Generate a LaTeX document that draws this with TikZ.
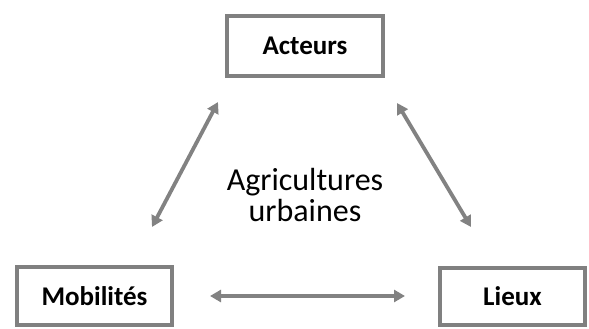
\documentclass[tikz,border=0pt]{standalone}
\usepackage{fontspec}
\setmainfont{Carlito}
\usetikzlibrary{arrows.meta,shadows}
\definecolor{edgegray}{RGB}{128,128,128}
\definecolor{arrgray}{RGB}{130,130,130}
\tikzset{
  box/.style={draw=edgegray, line width=3.4pt, fill=white, inner sep=0pt,
    font=\bfseries\fontsize{27}{32}\selectfont,
    drop shadow={shadow xshift=1.5pt, shadow yshift=-1.5pt, opacity=0.35, fill=black}},
  link/.style={draw=arrgray, line width=3.8pt, {Triangle[length=11pt,width=12pt]}-{Triangle[length=11pt,width=12pt]}}
}
\begin{document}
\begin{tikzpicture}[x=1pt,y=-1pt]
\useasboundingbox (0,0) rectangle (589,329);
\node[box, minimum width=156pt, minimum height=60pt] (act) at (305,46) {Acteurs};
\node[box, minimum width=155pt, minimum height=58pt] (mob) at (94.5,296) {Mobilités};
\node[box, minimum width=145pt, minimum height=57pt] (lie) at (512.5,296.5) {Lieux};
\node[align=center, font=\fontsize{32}{31}\selectfont] (agri) at (305,195) {Agricultures\\urbaines};
\coordinate (l1) at (152,227);
\coordinate (l2) at (218,102);
\coordinate (r1) at (397,103);
\coordinate (r2) at (471,227);
\coordinate (b1) at (210,296);
\coordinate (b2) at (405,296);
\draw[link] (l1) -- (l2);
\draw[link] (r1) -- (r2);
\draw[link] (b1) -- (b2);
\end{tikzpicture}
\end{document}
